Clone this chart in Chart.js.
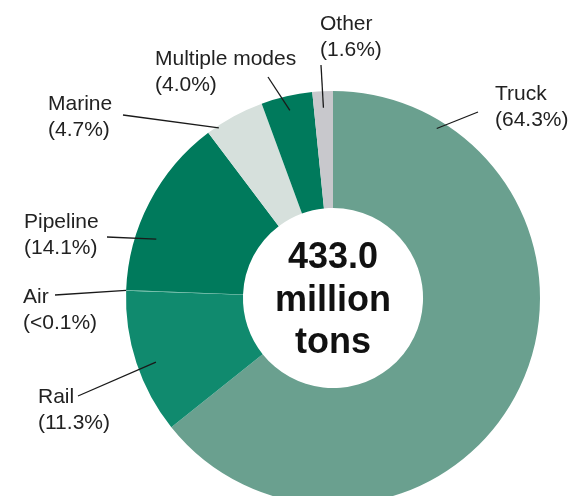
<!DOCTYPE html>
<html>
<head>
<meta charset="utf-8">
<script src="https://cdn.jsdelivr.net/npm/chart.js@4"></script>
<style>
    html, body { margin: 0; padding: 0; background: #fff; overflow: hidden; }
    #wrap { position: relative; width: 568px; height: 520px; }
</style>
</head>
<body>
<div id="wrap"><canvas id="modeChart"></canvas></div>
<script>
// Shares of tonnage by mode (percent), clockwise from 12 o'clock
const modes = ['Truck', 'Rail', 'Air', 'Pipeline', 'Marine', 'Multiple modes', 'Other'];
const shares = [64.3, 11.3, 0.05, 14.1, 4.7, 4.0, 1.6];
const shareLabels = ['(64.3%)', '(11.3%)', '(<0.1%)', '(14.1%)', '(4.7%)', '(4.0%)', '(1.6%)'];
const sliceColors = ['#6aa08f', '#108a6e', '#5db79e', '#007a5c', '#d6e0dc', '#007a5c', '#c8c8cc'];
const centerLines = ['433.0', 'million', 'tons'];

// Where each callout text sits and where its leader line starts (label side)
const callouts = [
    { text: [495, 100], from: [478, 112], frac: 0.136, r: 0.96 },
    { text: [38, 403],  from: [78, 396],  frac: 0.46,  r: 0.91 },
    { text: [23, 303],  from: [55, 295],  frac: 0.5,   r: 1.0 },
    { text: [24, 228],  from: [107, 237], frac: 0.32,  r: 0.90 },
    { text: [48, 110],  from: [123, 115], frac: 0.19,  r: 0.99 },
    { text: [155, 65],  from: [268, 77],  frac: 0.5,   r: 0.93 },
    { text: [320, 30],  from: [321, 65],  frac: 0.5,   r: 0.92 }
];

const FONT = '"Liberation Sans", Arial, Helvetica, sans-serif';

// Plugin to draw callouts and the centre total
const calloutPlugin = {
    id: 'callouts',
    afterDraw(chart) {
        const ctx = chart.ctx;
        const arcs = chart.getDatasetMeta(0).data;
        ctx.save();

        // Leader lines
        ctx.strokeStyle = '#1a1a1a';
        ctx.lineWidth = 1.3;
        arcs.forEach((arc, i) => {
            const p = arc.getProps(['x', 'y', 'startAngle', 'endAngle', 'outerRadius'], true);
            const c = callouts[i];
            const a = p.startAngle + (p.endAngle - p.startAngle) * c.frac;
            const r = p.outerRadius * c.r;
            ctx.beginPath();
            ctx.moveTo(c.from[0], c.from[1]);
            ctx.lineTo(p.x + Math.cos(a) * r, p.y + Math.sin(a) * r);
            ctx.stroke();
        });

        // Callout text
        ctx.fillStyle = '#222';
        ctx.font = '21px ' + FONT;
        ctx.textAlign = 'left';
        ctx.textBaseline = 'alphabetic';
        modes.forEach((name, i) => {
            const t = callouts[i].text;
            ctx.fillText(name, t[0], t[1]);
            ctx.fillText(shareLabels[i], t[0], t[1] + 26);
        });

        // Centre total
        const ctr = arcs[0].getProps(['x', 'y'], true);
        ctx.fillStyle = '#111';
        ctx.font = 'bold 36px ' + FONT;
        ctx.textAlign = 'center';
        const offsets = [-30, 13, 55];
        centerLines.forEach((line, i) => {
            ctx.fillText(line, ctr.x, ctr.y + offsets[i]);
        });
        ctx.restore();
    }
};

const ctxModes = document.getElementById('modeChart');
new Chart(ctxModes.getContext('2d'), {
    type: 'doughnut',
    data: {
        labels: modes,
        datasets: [{
            data: shares,
            backgroundColor: sliceColors,
            borderWidth: 0
        }]
    },
    options: {
        responsive: true,
        maintainAspectRatio: false,
        animation: false,
        cutout: '43.5%',
        layout: { padding: { left: 126, right: 28, top: 91, bottom: 15 } },
        plugins: {
            legend: { display: false },
            tooltip: { enabled: false }
        }
    },
    plugins: [calloutPlugin]
});
</script>
</body>
</html>
